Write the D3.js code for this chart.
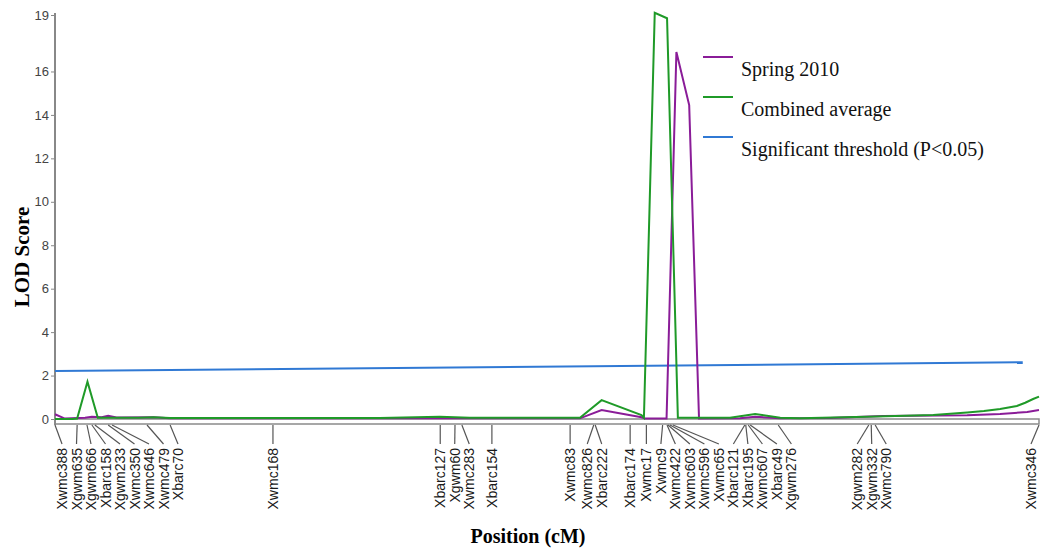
<!DOCTYPE html>
<html>
<head>
<meta charset="utf-8">
<script src="https://cdn.jsdelivr.net/npm/d3@7"></script>
<style>
  body { margin: 0; background: #fff; }
  svg { display: block; }
</style>
</head>
<body>
<svg id="chart" width="1042" height="553"></svg>
<script>
var markerNames = ["Xwmc388", "Xgwm635", "Xgwm666", "Xbarc158", "Xgwm233", "Xwmc350", "Xwmc646", "Xwmc479", "Xbarc70",
  "Xwmc168", "Xbarc127", "Xgwm60", "Xwmc283", "Xbarc154", "Xwmc83", "Xwmc826", "Xbarc222", "Xbarc174", "Xwmc17",
  "Xwmc9", "Xwmc422", "Xwmc603", "Xwmc596", "Xwmc65", "Xbarc121", "Xbarc195", "Xwmc607", "Xbarc49", "Xgwm276",
  "Xgwm282", "Xgwm332", "Xwmc790", "Xwmc346"];
var markerPos = [0, 4.5, 6.5, 7.5, 8.1, 10.8, 11.6, 18.7, 23.4,
  44.3, 78.3, 81.3, 82.7, 88.8, 104.7, 109.5, 109.8, 116.9, 120.2,
  123.5, 124.4, 124.6, 125.0, 125.6, 140.2, 140.4, 140.9, 141.3, 147.0,
  165.4, 165.9, 166.7, 200];

var springPos = [0, 2, 6.1, 7.5, 9.5, 10.8, 12.5, 20, 23.4, 106.7, 111.1, 119.2, 119.9, 124.3, 126.3, 128.9, 130.9,
  139.2, 142.3, 147.4, 157.5, 168.3, 185.4, 192.1, 197.6, 200];
var springLod = [0.22, 0.02, 0.06, 0.1, 0.08, 0.15, 0.07, 0.08, 0.04, 0.03, 0.41, 0.08, 0.02, 0.02, 16.9, 14.45, 0.02,
  0.03, 0.1, 0.03, 0.05, 0.14, 0.17, 0.23, 0.32, 0.41];

var combinedPos = [0, 3.5, 4.5, 6.6, 8.7, 17, 20, 23.4, 66, 78.2, 84.3, 106.7, 111.1, 119.2, 119.7, 121.9, 124.4, 126.6,
  137.2, 142.3, 147.4, 151.4, 165, 178.5, 185.4, 188.8, 192.1, 195.5, 197.2, 198.8, 200];
var combinedLod = [0, 0, 0.02, 1.72, 0.06, 0.06, 0.08, 0.05, 0.05, 0.1, 0.06, 0.06, 0.87, 0.18, 0.06, 18.7, 18.45, 0.06,
  0.06, 0.23, 0.06, 0.04, 0.1, 0.18, 0.3, 0.37, 0.46, 0.6, 0.75, 0.92, 1.03];

var thresholdPos = [0, 196.7];
var thresholdLod = [2.21, 2.61];

var yMax = 18.6;
var yTicks = [0, 2, 4, 6, 8, 10, 12, 14, 16, yMax];
var legendLabels = ["Spring 2010", "Combined average", "Significant threshold (P<0.05)"];
var colors = ["#8a1c98", "#1f9a28", "#3079d4"];

var svg = d3.select("#chart"),
    plotLeft = 55, plotRight = 1039, plotTop = 15, zeroY = 419,
    x = d3.scaleLinear().domain([0, 200]).range([plotLeft, plotRight]),
    y = d3.scaleLinear().domain([0, yMax]).range([zeroY, plotTop]);

// y axis
var yAxis = svg.append("g").attr("transform", "translate(" + plotLeft + ",0)")
  .call(d3.axisLeft(y).tickValues(yTicks).tickFormat(d3.format(".0f")).tickSize(4).tickSizeOuter(0));
yAxis.select(".domain").attr("stroke", "#888").attr("stroke-width", 2).attr("d", "M0," + (plotTop - 2) + "V" + (zeroY + 6));
yAxis.selectAll(".tick line").attr("stroke", "#888");
yAxis.selectAll(".tick text").attr("fill", "#444").style("font-family", "Liberation Sans, Arial, sans-serif").style("font-size", "13px").attr("x", -6);

// position bar
svg.append("rect").attr("x", x(0)).attr("y", zeroY).attr("width", x(200) - x(0)).attr("height", 5)
  .attr("fill", "none").attr("stroke", "#8a8a8a").attr("stroke-width", 1.5);

// lines
var line = d3.line().x(function (d) { return x(d[0]) }).y(function (d) { return y(d[1]) });
var series = [
  { pos: thresholdPos, lod: thresholdLod, color: colors[2] },
  { pos: springPos, lod: springLod, color: colors[0] },
  { pos: combinedPos, lod: combinedLod, color: colors[1] }
];
series.forEach(function (s) {
  svg.append("path").datum(d3.zip(s.pos, s.lod)).attr("d", line)
    .attr("fill", "none").attr("stroke", s.color).attr("stroke-width", 2).attr("stroke-linecap", "butt");
});

// marker label layout: markers closer than one label width form a group centred
// on its mean, then groups are pushed right where they would overlap
var gap = 14.5, minX = plotLeft + 7, maxX = plotRight - 8;
var groups = [];
markerPos.forEach(function (p, i) {
  if (i > 0 && x(p) - x(markerPos[i - 1]) < gap) groups[groups.length - 1].push(i);
  else groups.push([i]);
});
var labelX = [], cursor = minX;
groups.forEach(function (g) {
  var start = d3.mean(g, function (i) { return x(markerPos[i]) }) - (g.length - 1) * gap / 2;
  start = Math.max(start, cursor);
  g.forEach(function (i, k) { labelX[i] = start + k * gap });
  cursor = start + g.length * gap;
});
labelX[labelX.length - 1] = Math.min(maxX, labelX[labelX.length - 1]);
for (var i = labelX.length - 2; i >= 0; i--) labelX[i] = Math.min(labelX[i], labelX[i + 1] - gap);

var markers = svg.append("g").selectAll("g").data(markerNames).enter().append("g");
markers.append("path").attr("d", function (d, i) {
  return "M" + x(markerPos[i]) + "," + (zeroY + 6) + "L" + labelX[i] + "," + (zeroY + 25);
}).attr("stroke", "#555").attr("stroke-width", 1.2).attr("fill", "none");
markers.append("text").text(function (d) { return d })
  .attr("transform", function (d, i) { return "translate(" + (labelX[i] + 5) + "," + (zeroY + 29) + ") rotate(-90)" })
  .attr("text-anchor", "end")
  .style("font-family", "Liberation Sans, Arial, sans-serif").style("font-size", "14px").style("fill", "#1a1a1a");

// legend
var legend = svg.append("g").selectAll("g").data(legendLabels).enter().append("g")
  .attr("transform", function (d, i) { return "translate(703," + (57 + i * 40) + ")" });
legend.append("line").attr("x1", 0).attr("x2", 30).attr("stroke", function (d, i) { return colors[i] }).attr("stroke-width", 2);
legend.append("text").text(function (d) { return d }).attr("x", 38).attr("y", 19)
  .style("font-family", "Liberation Serif, Times New Roman, serif").style("font-size", "20px").style("fill", "#111");

// titles
svg.append("text").text("LOD Score").attr("transform", "translate(29,257) rotate(-90)").attr("text-anchor", "middle")
  .style("font-family", "Liberation Serif, Times New Roman, serif").style("font-size", "21px").style("font-weight", "bold");
svg.append("text").text("Position (cM)").attr("x", 528).attr("y", 543).attr("text-anchor", "middle")
  .style("font-family", "Liberation Serif, Times New Roman, serif").style("font-size", "20px").style("font-weight", "bold");
</script>
</body>
</html>
